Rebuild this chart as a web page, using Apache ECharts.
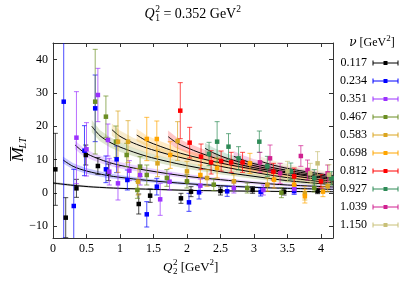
<!DOCTYPE html>
<html><head><meta charset="utf-8">
<script src="https://cdn.jsdelivr.net/npm/echarts@6/dist/echarts.min.js"></script>
<style>html,body{margin:0;padding:0;background:#fff}#c{width:407px;height:285px}</style>
</head><body><div id="c"></div>
<script>
// ---------- data ----------
const nuLabels = ['0.117','0.234','0.351','0.467','0.583','0.698','0.812','0.927','1.039','1.150'];
const xTicks = [0,0.5,1,1.5,2,2.5,3,3.5,4];
const yTicks = [-10,0,10,20,30,40];

// points: [Q2^2, M_LT, error]
const pts_0117 = [[0.035,7.1,10.8],[0.19,-7.4,6],[0.35,1.4,2.7],[0.49,11.4,3],[0.67,8.1,2.5],[0.83,6.2,2.5],[1.28,-3.3,3],[1.45,-0.8,2],[1.91,-1.6,1.5],[2.06,0.4,1.5],[2.5,0.6,1.2],[2.98,0.9,1],[3.45,0.4,1],[3.95,0.6,0.8]];
const pts_0234 = [[0.16,27.4,41],[0.31,-3.9,11],[0.47,12.7,7.5],[0.63,25.4,10],[0.79,7.1,4],[0.95,10.1,4],[1.11,3.9,3],[1.4,-6.4,3.8],[1.55,1.9,2.5],[2.03,-2.8,2.7],[2.18,0.2,2],[2.6,0.5,1.5],[3.1,0.3,1.2],[3.6,0.6,1]];
const pts_0351 = [[0.35,16.6,13.8],[0.5,13.1,8],[0.67,29.4,8],[0.82,15.9,4.8],[0.84,6.4,4],[0.97,2.9,5],[1.14,6.7,3],[1.3,5.4,3],[1.6,-1.9,4.8],[1.74,3.4,2.5],[2.2,2.2,2],[2.7,1.5,1.5],[3.14,0.9,1.5],[3.6,1.2,1.2]];
const pts_0467 = [[0.63,27.4,15.7],[0.79,22.9,6.2],[0.94,15.4,4.7],[1.1,11.4,3.5],[1.26,0.9,2.5],[1.3,7.9,3],[1.4,5.4,3],[1.7,4.5,2.5],[2.0,3.5,2],[2.4,2.5,1.8],[2.9,1.5,1.5],[3.41,0.1,1.5],[3.9,1.5,1.2]];
const pts_0583 = [[0.97,15.4,9.2],[1.12,15.4,6.3],[1.27,3.4,4],[1.56,8.9,4],[1.86,15.6,5.8],[2.0,6.5,3],[2.3,4.5,2.5],[2.7,3.5,2],[3.2,2.5,2],[3.76,-0.1,2],[4.1,2.0,1.5]];
const pts_0698 = [[1.4,16.2,6.5],[1.55,16.2,5.4],[1.75,11.4,4],[2.2,5.4,3],[2.45,7.5,3],[2.94,8.9,3],[3.3,4,2.5],[3.6,2.5,2],[3.76,-1.0,2],[4.03,0.4,1.5]];
const pts_0812 = [[1.9,24.7,8.4],[2.04,15.1,4.6],[2.21,10.9,3.8],[2.36,9.2,3.5],[2.51,9.6,3],[2.66,9.2,3],[2.83,9.2,3],[3.29,6.4,2.5],[3.6,5,2.5],[4.0,3.5,2]];
const pts_0927 = [[2.33,11.7,3.5],[2.45,15.4,6],[2.62,13.9,3.9],[2.77,10.4,3.5],[3.08,15.4,3.2],[3.2,8,3],[3.55,6.5,2.5],[3.9,4.5,2.5],[4.16,4.4,2]];
const pts_1039 = [[3.09,9.2,3],[3.24,10.4,4],[3.39,5.9,3],[3.7,11.1,3.1],[3.8,6.9,3],[4.1,5.9,2.5]];
const pts_1150 = [[3.5,6.5,3],[3.84,5.9,3],[3.95,8.9,3.5],[4.12,5.5,3]];

// fit curves: [Q2^2, value, band half-width]
const fit_0117 = [[0,3.0,0.3],[0.3,2.3,0.3],[0.6,1.8,0.25],[1,1.4,0.2],[1.5,1.1,0.2],[2,0.8,0.2],[2.5,0.65,0.15],[3,0.55,0.15],[3.5,0.45,0.15],[4.18,0.4,0.15]];
const fit_0234 = [[0.15,9.9,1.0],[0.3,8.0,0.9],[0.5,6.6,0.8],[0.8,5.3,0.7],[1,4.7,0.6],[1.4,3.8,0.5],[2,2.8,0.4],[2.5,2.2,0.35],[3,1.7,0.3],[3.5,1.4,0.3],[4.18,1.1,0.25]];
const fit_0351 = [[0.33,14.4,1.3],[0.45,12.4,1.2],[0.6,10.9,1.1],[0.8,9.4,1.0],[1,8.3,0.9],[1.4,6.8,0.8],[2,5,0.6],[2.5,4,0.5],[3,3.1,0.45],[3.5,2.4,0.4],[4.18,1.8,0.35]];
const fit_0467 = [[0.58,20,1.8],[0.7,17.2,1.6],[0.85,15.2,1.5],[1,13.8,1.4],[1.2,12.3,1.2],[1.4,11,1.1],[1.7,9.5,1.0],[2,8.2,0.9],[2.5,6.4,0.8],[3,5,0.7],[3.5,3.7,0.6],[4.18,2.5,0.5]];
const fit_0583 = [[0.88,19,1.8],[1,17,1.7],[1.2,15,1.5],[1.4,13.5,1.4],[1.7,11.7,1.2],[2,10.2,1.1],[2.5,8,0.9],[3,6.2,0.8],[3.5,4.6,0.7],[4.18,3.0,0.6]];
const fit_0698 = [[1.25,17.4,1.8],[1.4,15.6,1.6],[1.6,14,1.5],[1.8,12.6,1.4],[2,11.4,1.3],[2.5,9,1.1],[3,7.1,0.9],[3.5,5.4,0.8],[4.18,3.5,0.7]];
const fit_0812 = [[1.72,16.9,1.8],[1.85,15,1.6],[2,13.6,1.5],[2.2,12,1.4],[2.5,10,1.2],[3,7.6,1.0],[3.5,6,0.9],[4.18,4.0,0.8]];
const fit_0927 = [[2.27,13.4,1.6],[2.4,12,1.5],[2.6,10.4,1.3],[3,8.2,1.1],[3.5,6.3,1.0],[4.18,4.4,0.8]];
const fit_1039 = [[2.7,11,1.5],[2.85,9.8,1.4],[3,8.8,1.3],[3.5,6.8,1.1],[4.18,4.8,0.9]];
const fit_1150 = [[3.1,9.5,1.4],[3.3,8.3,1.3],[3.6,7.0,1.2],[4.18,5.2,1.0]];

// ---------- styles ----------
const colors = ['#000000','#0000ff','#9b30ff','#6b8e23','#daa520','#ffa500','#ff0000','#2e8b57','#d02090','#c8c078'];
const allPts = [pts_0117,pts_0234,pts_0351,pts_0467,pts_0583,pts_0698,pts_0812,pts_0927,pts_1039,pts_1150];
const allFits = [fit_0117,fit_0234,fit_0351,fit_0467,fit_0583,fit_0698,fit_0812,fit_0927,fit_1039,fit_1150];
const FONT = '"Liberation Serif", "DejaVu Serif", serif';

const XMIN=0, XMAX=4.18, YMIN=-13.5, YMAX=45;

function errRender(color){
  return function(params, api){
    const x=api.value(0), y=api.value(1), e=api.value(2);
    const lo=api.coord([x,y-e]), hi=api.coord([x,y+e]);
    const cw=2.5;
    const st={stroke:color, lineWidth:1, opacity:0.7};
    return {type:'group', children:[
      {type:'line', shape:{x1:lo[0],y1:lo[1],x2:hi[0],y2:hi[1]}, style:st},
      {type:'line', shape:{x1:lo[0]-cw,y1:lo[1],x2:lo[0]+cw,y2:lo[1]}, style:st},
      {type:'line', shape:{x1:hi[0]-cw,y1:hi[1],x2:hi[0]+cw,y2:hi[1]}, style:st}
    ]};
  };
}
function bandRender(fit,color){
  return function(params, api){
    const up = fit.map(p=>api.coord([p[0],p[1]+p[2]]));
    const dn = fit.slice().reverse().map(p=>api.coord([p[0],p[1]-p[2]]));
    return {type:'polygon', shape:{points: up.concat(dn)}, style:{fill:color, opacity:0.22, stroke:color, lineWidth:0.5, strokeOpacity:0.4}};
  };
}

const series = [];
allFits.forEach((fit,i)=>{
  series.push({type:'custom', clip:true, z:1, silent:true, data:[[fit[0][0],fit[0][1]]], renderItem: bandRender(fit, colors[i])});
  series.push({type:'line', z:2, silent:true, symbol:'none', smooth:0.3, clip:true,
    lineStyle:{color:'#000', width:1}, data: fit.map(p=>[p[0],p[1]])});
});
allPts.forEach((pts,i)=>{
  series.push({type:'custom', clip:true, z:3, silent:true, encode:{x:0,y:1}, data: pts, renderItem: errRender(colors[i])});
  series.push({type:'scatter', z:4, silent:true, symbol:'rect', symbolSize:4.5, itemStyle:{color:colors[i], opacity:1},
    data: pts.map(p=>[p[0],p[1]])});
});

// ---------- text helpers ----------
const ctx = document.createElement('canvas').getContext('2d');
function tw(text, size, italic, fam){ ctx.font=(italic?'italic ':'')+size+'px '+(fam||'"Liberation Serif"'); return ctx.measureText(text).width; }
function txt(x,y,text,size,italic,align,fam){
  return {type:'text', x:x, y:y, style:{text:text, font:(italic?'italic ':'')+size+'px '+(fam||FONT), fill:'#000', align:align||'left', verticalAlign:'middle'}};
}

const graphics = [];
// title: Q_1^2 = 0.352 GeV^2
(function(){
  const s=14, ss=9.5;
  const parts = [tw('Q',s,true), tw('2',ss), tw(' = 0.352 GeV',s), tw('2',ss)];
  const total = parts.reduce((a,b)=>a+b,0)+1;
  let x = 193 - total/2, y=14;
  graphics.push(txt(x,y,'Q',s,true)); x+=parts[0]+0.5;
  graphics.push(txt(x,y-5,'2',ss)); graphics.push(txt(x,y+4,'1',ss)); x+=parts[1];
  graphics.push(txt(x,y,' = 0.352 GeV',s)); x+=parts[2];
  graphics.push(txt(x,y-5,'2',ss));
})();
// x axis name: Q_2^2 [GeV^2]
(function(){
  const s=13, ss=9;
  const parts=[tw('Q',s,true), tw('2',ss), tw(' [GeV',s), tw('2',ss), tw(']',s)];
  const total=parts.reduce((a,b)=>a+b,0)+1;
  let x=191-total/2, y=268;
  graphics.push(txt(x,y,'Q',s,true)); x+=parts[0]+0.5;
  graphics.push(txt(x,y-5,'2',ss)); graphics.push(txt(x,y+4,'2',ss)); x+=parts[1];
  graphics.push(txt(x,y,' [GeV',s)); x+=parts[2];
  graphics.push(txt(x,y-5,'2',ss)); x+=parts[3];
  graphics.push(txt(x,y,']',s));
})();
// y axis name: overline M _LT  (rotated)
(function(){
  const s=17, ss=10;
  const wM=tw('M',s,true), wL=tw('LT',ss,true);
  const total=wM+wL;
  const x0=-total/2;
  graphics.push({type:'group', x:19, y:149, rotation:Math.PI/2, children:[
    txt(x0,0,'M',s,true),
    txt(x0+wM-1,4,'LT',ss,true),
    {type:'line', shape:{x1:x0+0.5,y1:-8.5,x2:x0+wM+0.5,y2:-8.5}, style:{stroke:'#000', lineWidth:0.9}}
  ]});
})();
// legend
(function(){
  const s=12;
  const NU='"DejaVu Serif"';
  const wn=tw('ν',s,true,NU), wr=tw(' [GeV',s), w2=tw('2',9), wb=tw(']',s);
  let x=372-(wn+wr+w2+wb)/2, y=43;
  graphics.push(txt(x,y,'ν',s,true,'left',NU)); x+=wn;
  graphics.push(txt(x,y,' [GeV',s)); x+=wr;
  graphics.push(txt(x,y-4,'2',9)); x+=w2;
  graphics.push(txt(x,y,']',s));
  nuLabels.forEach((lab,i)=>{
    const yy = 63 + i*18;
    graphics.push(txt(367,yy,lab,s,false,'right'));
    const c=colors[i];
    graphics.push({type:'line', shape:{x1:373,y1:yy,x2:398,y2:yy}, style:{stroke:c,lineWidth:1}});
    graphics.push({type:'line', shape:{x1:373,y1:yy-2.5,x2:373,y2:yy+2.5}, style:{stroke:c,lineWidth:1}});
    graphics.push({type:'line', shape:{x1:398,y1:yy-2.5,x2:398,y2:yy+2.5}, style:{stroke:c,lineWidth:1}});
    graphics.push({type:'rect', shape:{x:383.5,y:yy-2,width:4,height:4}, style:{fill:c}});
  });
})();

const axisCol = '#333';
function fmt(v){ return String(v).replace('-','\u2212'); }
const option = {
  animation:false,
  backgroundColor:'#fff',
  grid:{left:53, right:74, top:43, bottom:47},
  xAxis:[
    {type:'value', min:XMIN, max:XMAX, position:'bottom',
     axisLine:{show:true, onZero:false, lineStyle:{color:axisCol, width:1}},
     axisTick:{show:true, inside:true, length:4, customValues:xTicks, lineStyle:{color:axisCol}},
     axisLabel:{show:true, customValues:xTicks, formatter:fmt, fontFamily:FONT, fontSize:12, color:'#000', margin:5},
     splitLine:{show:false}},
    {type:'value', min:XMIN, max:XMAX, position:'top',
     axisLine:{show:true, onZero:false, lineStyle:{color:axisCol, width:1}},
     axisTick:{show:true, inside:true, length:4, customValues:xTicks, lineStyle:{color:axisCol}},
     axisLabel:{show:false}, splitLine:{show:false}}
  ],
  yAxis:[
    {type:'value', min:YMIN, max:YMAX, position:'left',
     axisLine:{show:true, onZero:false, lineStyle:{color:axisCol, width:1}},
     axisTick:{show:true, inside:true, length:4, customValues:yTicks, lineStyle:{color:axisCol}},
     axisLabel:{show:true, customValues:yTicks, formatter:fmt, fontFamily:FONT, fontSize:12, color:'#000', margin:5},
     splitLine:{show:false}},
    {type:'value', min:YMIN, max:YMAX, position:'right',
     axisLine:{show:true, onZero:false, lineStyle:{color:axisCol, width:1}},
     axisTick:{show:true, inside:true, length:4, customValues:yTicks, lineStyle:{color:axisCol}},
     axisLabel:{show:false}, splitLine:{show:false}}
  ],
  series: series,
  graphic: graphics
};
const chart = echarts.init(document.getElementById('c'), null, {renderer:'canvas'});
chart.setOption(option);
</script>
</body></html>
